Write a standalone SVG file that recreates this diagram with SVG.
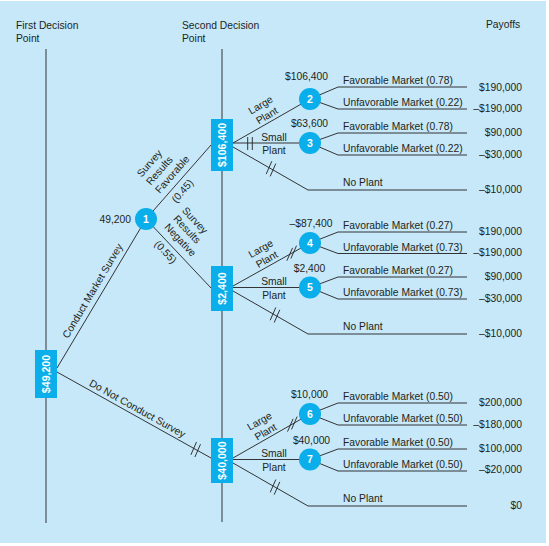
<svg xmlns="http://www.w3.org/2000/svg" width="549" height="546" viewBox="0 0 549 546">
<style>
text{font-family:"Liberation Sans",Arial,sans-serif;font-size:10.3px;fill:#231f20}
.vl{stroke:#5b6770;stroke-width:1.4;fill:none}
.ln{stroke:#231f20;stroke-width:0.9;fill:none}
.tk{stroke:#231f20;stroke-width:0.9;fill:none}
.box{fill:#0aaeea}
.circ{fill:#0aaeea}
.bt{fill:#fff;font-weight:bold;font-size:10.6px;text-anchor:middle}
.ct{fill:#fff;font-weight:bold;font-size:10.5px;text-anchor:middle}
.r{text-anchor:end}
.m{text-anchor:middle}
</style>
<rect x="0" y="1" width="546" height="542" fill="#c6e8f9"/>
<g id="headers">
<text x="16" y="29">First Decision</text>
<text x="16" y="42">Point</text>
<text x="182" y="29">Second Decision</text>
<text x="182" y="42">Point</text>
<text x="486" y="28">Payoffs</text>
</g>
<g id="connectors">
<path class="vl" d="M46 49V523"/>
<path class="vl" d="M222 49V522"/>
<path class="ln" d="M57 368L146 219"/>
<path class="ln" d="M57 372L211 458"/>
<path class="ln" d="M146 219L211 145"/>
<path class="ln" d="M146 219L211 288"/>
<path class="ln" d="M233 143L310 99"/>
<path class="ln" d="M233 143H310"/>
<path class="ln" d="M233 147L308 190H467"/>
<path class="ln" d="M310 99L338 87H467"/>
<path class="ln" d="M310 99L338 109H467"/>
<path class="ln" d="M310 143L338 133H467"/>
<path class="ln" d="M310 143L338 155H467"/>
<path class="ln" d="M233 286L310 243"/>
<path class="ln" d="M233 287.5H310"/>
<path class="ln" d="M233 291L308 334H467"/>
<path class="ln" d="M310 243L338 232H467"/>
<path class="ln" d="M310 243L338 253.5H467"/>
<path class="ln" d="M310 287.5L338 277H467"/>
<path class="ln" d="M310 287.5L338 299H467"/>
<path class="ln" d="M233 458L310 414"/>
<path class="ln" d="M233 459.5H310"/>
<path class="ln" d="M233 463L308 506H467"/>
<path class="ln" d="M310 414L338 403H467"/>
<path class="ln" d="M310 414L338 425H467"/>
<path class="ln" d="M310 459.5L338 449H467"/>
<path class="ln" d="M310 459.5L338 471H467"/>
<path class="tk" d="M247.7 137V150M252.3 137V150"/>
<path class="tk" d="M266.2 174.05L271.8 161.25M270.2 176.35L275.8 163.55"/>
<path class="tk" d="M190.9 454.8L196.5 442M194.9 457L200.5 444.2"/>
<path class="tk" d="M286.9 260.7L292.5 247.9M290.9 258.5L296.5 245.7"/>
<path class="tk" d="M270.2 320.25L275.8 307.45M274.2 322.55L279.8 309.75"/>
<path class="tk" d="M287.5 431.6L293.1 418.8M291.5 429.4L297.1 416.6"/>
<path class="tk" d="M270.2 492.35L275.8 479.55M274.2 494.65L279.8 481.85"/>
<g transform="translate(57,368) rotate(-59.3)"><text class="m" x="84.5" y="-5.3">Conduct Market Survey</text></g>
<g transform="translate(57,372) rotate(29.2)"><text class="m" x="88" y="-3.8">Do Not Conduct Survey</text></g>
<g transform="translate(146,219) rotate(-48.7)">
<text x="28" y="-30.6">Survey</text>
<text x="28" y="-18.4">Results</text>
<text x="28" y="-6.2">Favorable</text>
<text x="31.6" y="12.4">(0.45)</text>
</g>
<g transform="translate(146,219) rotate(46.7)">
<text x="18.5" y="-31.2">Survey</text>
<text x="18.5" y="-19.2">Results</text>
<text x="18.5" y="-7.2">Negative</text>
<text x="24" y="11.8">(0.55)</text>
</g>
<g transform="translate(263.75,110.25) rotate(-31)"><text class="m" y="-2.6">Large</text><text class="m" y="9.7">Plant</text></g>
<g transform="translate(263.75,254) rotate(-30)"><text class="m" y="-2.6">Large</text><text class="m" y="9.7">Plant</text></g>
<g transform="translate(262.5,426.5) rotate(-30)"><text class="m" y="-2.6">Large</text><text class="m" y="9.7">Plant</text></g>
<text class="m" x="274" y="140.5">Small</text><text class="m" x="274" y="154">Plant</text>
<text class="m" x="274" y="285">Small</text><text class="m" x="274" y="298.5">Plant</text>
<text class="m" x="274" y="457">Small</text><text class="m" x="274" y="470.5">Plant</text>
<text x="343" y="84">Favorable Market (0.78)</text>
<text x="343" y="106">Unfavorable Market (0.22)</text>
<text x="343" y="130">Favorable Market (0.78)</text>
<text x="343" y="152">Unfavorable Market (0.22)</text>
<text x="343" y="186">No Plant</text>
<text x="343" y="229">Favorable Market (0.27)</text>
<text x="343" y="250.5">Unfavorable Market (0.73)</text>
<text x="343" y="274">Favorable Market (0.27)</text>
<text x="343" y="296">Unfavorable Market (0.73)</text>
<text x="343" y="330">No Plant</text>
<text x="343" y="400">Favorable Market (0.50)</text>
<text x="343" y="422">Unfavorable Market (0.50)</text>
<text x="343" y="446">Favorable Market (0.50)</text>
<text x="343" y="468">Unfavorable Market (0.50)</text>
<text x="343" y="502">No Plant</text>
</g>
<g id="payoffs">
<text class="r" x="522" y="91">$190,000</text>
<text class="r" x="522" y="112">–$190,000</text>
<text class="r" x="522" y="136">$90,000</text>
<text class="r" x="522" y="158">–$30,000</text>
<text class="r" x="522" y="193">–$10,000</text>
<text class="r" x="522" y="235">$190,000</text>
<text class="r" x="522" y="256">–$190,000</text>
<text class="r" x="522" y="280">$90,000</text>
<text class="r" x="522" y="302">–$30,000</text>
<text class="r" x="522" y="337">–$10,000</text>
<text class="r" x="522" y="406">$200,000</text>
<text class="r" x="522" y="428">–$180,000</text>
<text class="r" x="522" y="452">$100,000</text>
<text class="r" x="522" y="473">–$20,000</text>
<text class="r" x="522" y="509">$0</text>
</g>
<g id="d1"><rect class="box" x="35" y="350" width="22" height="48"/><text class="bt" transform="translate(46,374) rotate(-90)" y="3.8">$49,200</text></g>
<g id="d2a"><rect class="box" x="211" y="119" width="22" height="52"/><text class="bt" transform="translate(222,145) rotate(-90)" y="3.8">$106,400</text></g>
<g id="d2b"><rect class="box" x="211" y="266" width="22" height="45"/><text class="bt" transform="translate(222,288.5) rotate(-90)" y="3.8">$2,400</text></g>
<g id="d2c"><rect class="box" x="211" y="438" width="22" height="45"/><text class="bt" transform="translate(222,460.5) rotate(-90)" y="3.8">$40,000</text></g>
<g id="c1"><circle class="circ" cx="146" cy="219" r="11"/><text class="ct" x="146" y="222.8">1</text><text class="r" x="131" y="223">49,200</text></g>
<g id="c2"><circle class="circ" cx="310" cy="99" r="11"/><text class="ct" x="310" y="102.8">2</text><text class="m" x="306.5" y="80">$106,400</text></g>
<g id="c3"><circle class="circ" cx="310" cy="143" r="11"/><text class="ct" x="310" y="146.8">3</text><text class="m" x="309.5" y="127">$63,600</text></g>
<g id="c4"><circle class="circ" cx="310" cy="243" r="11"/><text class="ct" x="310" y="246.8">4</text><text class="m" x="311" y="227">–$87,400</text></g>
<g id="c5"><circle class="circ" cx="310" cy="287.5" r="11"/><text class="ct" x="310" y="291.3">5</text><text class="m" x="309.5" y="272">$2,400</text></g>
<g id="c6"><circle class="circ" cx="310" cy="414" r="11"/><text class="ct" x="310" y="417.8">6</text><text class="m" x="309.5" y="398">$10,000</text></g>
<g id="c7"><circle class="circ" cx="310" cy="459.5" r="11"/><text class="ct" x="310" y="463.3">7</text><text class="m" x="311.5" y="444">$40,000</text></g>
</svg>
